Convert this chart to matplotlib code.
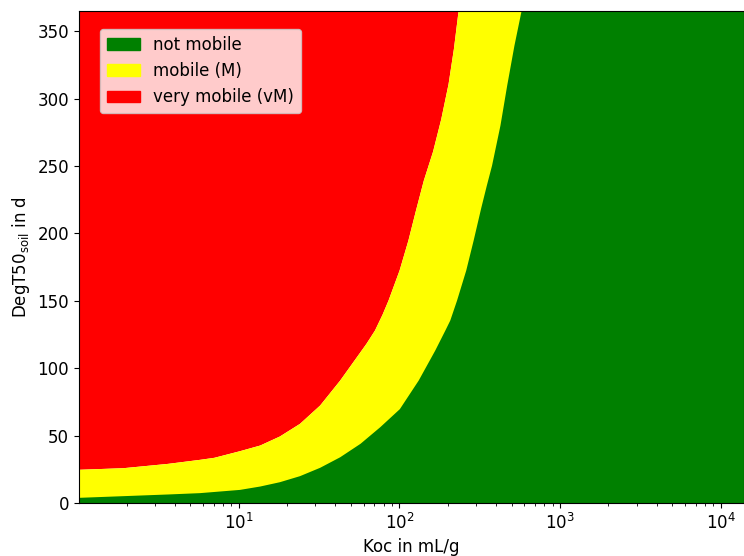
import matplotlib
matplotlib.use("Agg")
import matplotlib.pyplot as plt
from matplotlib.patches import Patch

# boundary between very mobile (above) and mobile (below)
koc_vm = [1.0, 1.9, 3.6, 5.7, 7.0, 10.1, 13.5, 17.9, 23.9, 31.9, 42.5, 54, 62, 70, 78, 85,
          99.6, 113, 126, 141, 161, 181, 201, 217, 232]
deg_vm = [25.0, 26.2, 29.4, 32.4, 33.9, 38.8, 43.0, 49.7, 59.1, 72.7, 91.2, 108.5, 118.5, 128.3, 140, 150.5,
          172.8, 195, 217.3, 239.5, 261, 285, 311, 337, 365]

# boundary between mobile (above) and not mobile (below)
koc_m = [1.0, 3.6, 5.7, 10.1, 13.5, 17.9, 23.9, 31.9, 42.5, 56.9, 75.5, 100, 131, 166,
         192, 206, 227, 259, 288, 321, 348, 375, 423, 466, 517, 572]
deg_m = [4.2, 6.7, 7.7, 10.1, 12.6, 15.8, 20.3, 26.5, 34.3, 44.3, 56.6, 70, 91.2, 113.4,
         128.3, 135.7, 150.5, 172.8, 195, 219, 235.8, 250.6, 280.3, 310, 339.6, 365]

labels = ["not mobile", "mobile (M)", "very mobile (vM)"]
colors = ["green", "yellow", "red"]

X_MIN, X_MAX = 1.01, 14000
Y_MAX = 365

plt.rcParams["font.size"] = 12

fig = plt.figure(figsize=(7.44, 5.56), dpi=100)
ax = fig.add_axes([0.106, 0.0953, 0.894, 0.885])

ax.fill_between(koc_vm + [X_MAX], deg_vm + [Y_MAX], Y_MAX, color="red", linewidth=0)
ax.fill_between(koc_vm + [X_MAX], 0, deg_vm + [Y_MAX], color="yellow", linewidth=0)
ax.fill_between(koc_m + [X_MAX], 0, deg_m + [Y_MAX], color="green", linewidth=0)

ax.set_xscale("log")
ax.set_xlim(X_MIN, X_MAX)
ax.set_ylim(0, Y_MAX)
ax.set_xlabel("Koc in mL/g")
ax.set_ylabel("DegT50$_{\\mathrm{soil}}$ in d")

handles = [Patch(color=c, label=l) for c, l in zip(colors, labels)]
ax.legend(handles=handles, loc="upper left", bbox_to_anchor=(0.032, 0.963),
          borderaxespad=0)

fig.savefig("out.png", dpi=100)
